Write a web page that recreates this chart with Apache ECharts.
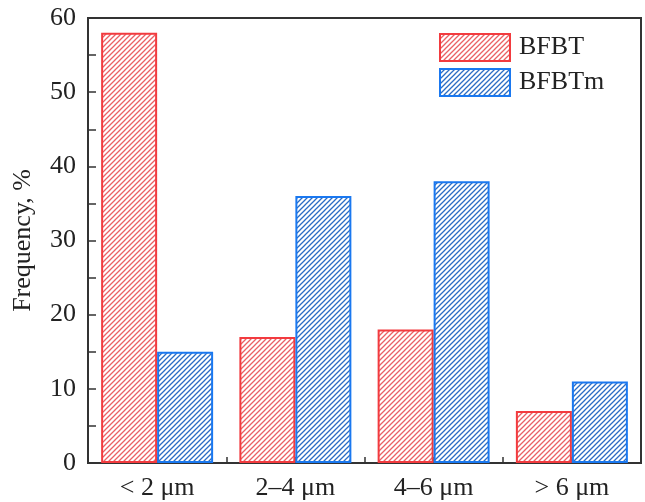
<!DOCTYPE html>
<html>
<head>
<meta charset="utf-8">
<script src="https://cdn.jsdelivr.net/npm/echarts@6/dist/echarts.min.js"></script>
<style>html,body{margin:0;padding:0;background:#fff;}#main{width:645px;height:502px;}</style>
</head>
<body>
<div id="main"></div>
<script>
const categories = ['< 2 μm', '2–4 μm', '4–6 μm', '> 6 μm'];
const seriesNames = ['BFBT', 'BFBTm'];
const bfbt = [58, 17, 18, 7];
const bfbtm = [15, 36, 38, 11];
const yTicks = [0, 10, 20, 30, 40, 50, 60];

function hatch(color, bg) {
  const s = 5;
  const c = document.createElement('canvas');
  c.width = s; c.height = s;
  const g = c.getContext('2d');
  g.fillStyle = bg; g.fillRect(0, 0, s, s);
  g.strokeStyle = color; g.lineWidth = 1.3;
  g.beginPath();
  g.moveTo(-1, s + 1); g.lineTo(s + 1, -1);
  g.moveTo(-1, 1); g.lineTo(1, -1);
  g.moveTo(s - 1, s + 1); g.lineTo(s + 1, s - 1);
  g.stroke();
  return { image: c, repeat: 'repeat' };
}

const font = 'Liberation Serif';
const fs = 26;
const chart = echarts.init(document.getElementById('main'), null, { renderer: 'canvas' });
chart.setOption({
  animation: false,
  backgroundColor: '#fff',
  grid: { left: 88, right: 4, top: 18, bottom: 39, show: true, borderColor: '#333', borderWidth: 2, backgroundColor: 'transparent' },
  legend: {
    left: 434, top: 28, orient: 'vertical', icon: 'rect', itemWidth: 70, itemHeight: 27, itemGap: 6,
    textStyle: { fontFamily: font, fontSize: fs, color: '#222', padding: [0, 0, 0, 4] },
    data: seriesNames
  },
  xAxis: [{
    type: 'category', data: categories,
    axisLine: { lineStyle: { color: '#333', width: 2 } },
    axisTick: { show: true, inside: true, length: 6, lineStyle: { color: '#333', width: 1.5 } },
    axisLabel: { fontFamily: font, fontSize: fs, color: '#222', margin: 12 }
  }, {
    type: 'category', data: categories, position: 'bottom',
    axisLine: { show: false },
    axisTick: { show: true, inside: true, alignWithLabel: true, length: 6, lineStyle: { color: '#333', width: 1.5 } },
    axisLabel: { show: false }
  }],
  yAxis: {
    type: 'value', min: yTicks[0], max: yTicks[yTicks.length - 1], interval: 10,
    name: 'Frequency, %', nameLocation: 'middle', nameGap: 52,
    nameTextStyle: { fontFamily: font, fontSize: fs, color: '#222' },
    axisLine: { show: true, lineStyle: { color: '#333', width: 2 } },
    axisTick: { show: true, inside: true, length: 8, lineStyle: { color: '#333', width: 1.5 } },
    minorTick: { show: true, splitNumber: 2, length: 8, lineStyle: { color: '#333', width: 1.5 } },
    splitLine: { show: false },
    axisLabel: { fontFamily: font, fontSize: fs, color: '#222', margin: 12 }
  },
  series: [{
    name: seriesNames[0], type: 'bar', data: bfbt, barWidth: '40.5%', barGap: '0%',
    itemStyle: { color: hatch('#ea6064', '#fff'), borderColor: '#f23b3f', borderWidth: 2 }
  }, {
    name: seriesNames[1], type: 'bar', data: bfbtm, barWidth: '40.5%', barGap: '0%',
    itemStyle: { color: hatch('#2a6cc4', '#fff'), borderColor: '#1a78f0', borderWidth: 2 }
  }]
});
</script>
</body>
</html>
